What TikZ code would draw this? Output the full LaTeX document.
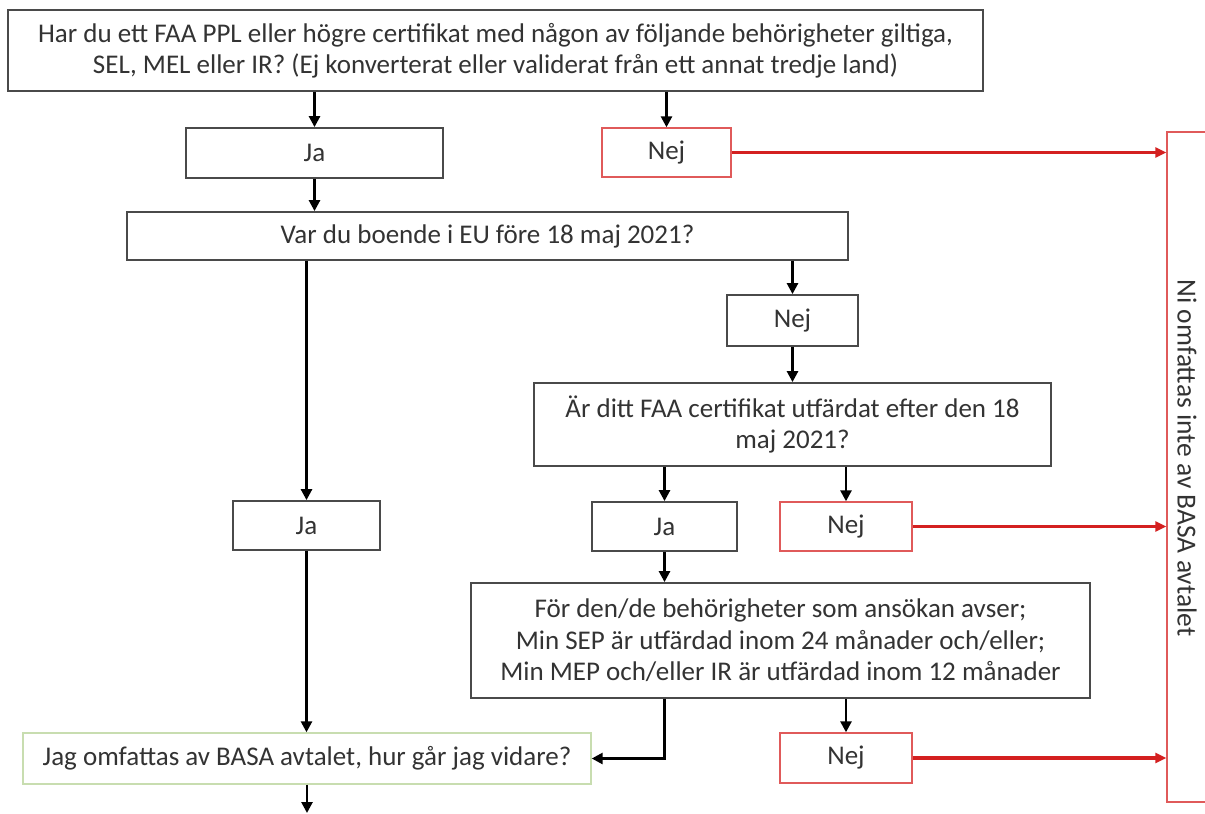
\documentclass[tikz,border=0pt]{standalone}
\usepackage{fontspec}
\setmainfont{Carlito}
\usetikzlibrary{arrows.meta}
\definecolor{txt}{HTML}{333333}
\definecolor{bord}{HTML}{4A4A4A}
\definecolor{redb}{HTML}{E05A5A}
\definecolor{reda}{HTML}{D42020}
\definecolor{greenb}{HTML}{C8DDB0}
\begin{document}
\begin{tikzpicture}[x=1pt,y=-1pt,
  box/.style={draw=bord, line width=1.8pt, fill=white, text=txt, align=center,
    inner sep=0pt, font=\fontsize{27}{31.5}\selectfont},
  redbox/.style={box, draw=redb, line width=1.4pt},
  greenbox/.style={box, draw=greenb, line width=1.4pt},
  arr/.style={draw=black, line width=2.6pt, -{Triangle[length=11pt,width=11pt]}},
  redarr/.style={draw=reda, line width=3.5pt, -{Triangle[length=11pt,width=10pt]}}]
\useasboundingbox (0,0) rectangle (1205,814);
\fill[white] (0,0) rectangle (1205,814);

\node[box, minimum width=975pt, minimum height=81pt] (top) at (495.5,50.5)
  {Har du ett FAA PPL eller högre certifikat med någon av följande behörigheter giltiga,\\
   SEL, MEL eller IR? (Ej konverterat eller validerat från ett annat tredje land)};
\node[box, minimum width=257pt, minimum height=50pt] (ja1) at (314.5,153) {Ja};
\node[redbox, minimum width=129pt, minimum height=49pt] (nej1) at (666.5,152.5) {Nej};
\node[box, minimum width=721pt, minimum height=48pt] (var) at (487.5,236)
  {Var du boende i EU före 18 maj 2021?};
\node[box, minimum width=131pt, minimum height=51pt] (nej2) at (792.5,320.5) {Nej};
\node[box, minimum width=517pt, minimum height=83pt] (ar) at (792.5,424.5)
  {Är ditt FAA certifikat utfärdat efter den 18\\ maj 2021?};
\node[box, minimum width=147pt, minimum height=49pt] (ja2) at (306.5,525.5) {Ja};
\node[box, minimum width=145pt, minimum height=49pt] (ja3) at (664.5,526.5) {Ja};
\node[redbox, minimum width=132pt, minimum height=49pt] (nej3) at (846,526.5) {Nej};
\node[box, minimum width=619pt, minimum height=115pt] (for) at (780.5,640.5)
  {För den/de behörigheter som ansökan avser;\\
   Min SEP är utfärdad inom 24 månader och/eller;\\
   Min MEP och/eller IR är utfärdad inom 12 månader};
\node[redbox, minimum width=132pt, minimum height=50pt] (nej4) at (846,758) {Nej};
\node[greenbox, minimum width=568pt, minimum height=51pt] (jag) at (307,758.5)
  {Jag omfattas av BASA avtalet, hur går jag vidare?};
\node[redbox, minimum width=45pt, minimum height=670pt] (right) at (1189.5,467) {};
\node[text=txt, rotate=-90, font=\fontsize{27.5}{33}\selectfont] (rtext) at (1187,458)
  {Ni omfattas inte av BASA avtalet};
\coordinate (end) at (307,813);

\draw[arr] (ja1 |- top.south) -- (ja1.north);
\draw[arr] (nej1 |- top.south) -- (nej1.north);
\draw[arr] (ja1.south) -- (ja1.south |- var.north);
\draw[redarr] (nej1.east) -- (nej1.east -| right.west);
\draw[arr] (ja2 |- var.south) -- (ja2.north);
\draw[arr] (nej2 |- var.south) -- (nej2.north);
\draw[arr] (nej2.south) -- (nej2.south |- ar.north);
\draw[arr] (ja3 |- ar.south) -- (ja3.north);
\draw[arr] (nej3 |- ar.south) -- (nej3.north);
\draw[redarr] (nej3.east) -- (nej3.east -| right.west);
\draw[arr] (ja3.south) -- (ja3.south |- for.north);
\draw[arr] (ja2.south) -- (ja2.south |- jag.north);
\draw[arr] (ja3 |- for.south) |- (jag.east);
\draw[arr] (nej4 |- for.south) -- (nej4.north);
\draw[redarr] (nej4.east) -- (nej4.east -| right.west);
\draw[arr] (jag.south) -- (end);
\end{tikzpicture}
\end{document}
